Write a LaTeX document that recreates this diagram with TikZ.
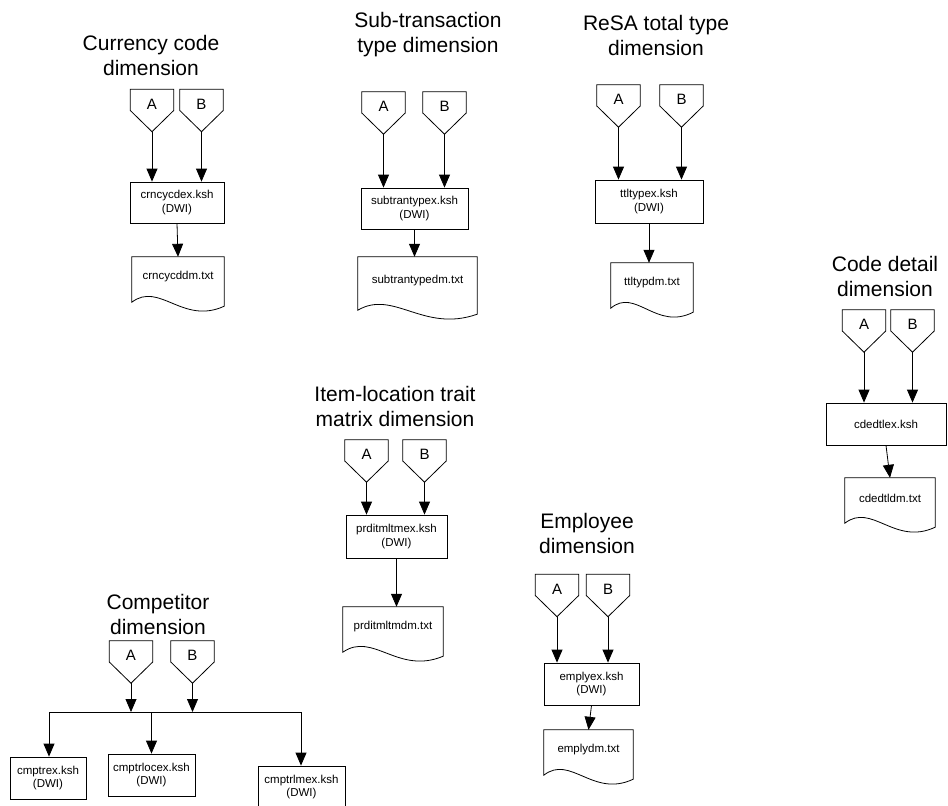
\documentclass[tikz,border=0pt]{standalone}
\usepackage{fontspec}
\setmainfont{Liberation Sans}
\usepackage{tikz}
\usetikzlibrary{arrows.meta,calc}
\tikzstyle{node:title}=[align=center,font=\fontsize{21}{25}\selectfont]
\tikzstyle{node:offpage}=[minimum width=43pt,minimum height=42pt,inner sep=0pt,text height=10.5pt,text depth=13pt,font=\fontsize{15}{18}\selectfont,
  append after command={\pgfextra{\draw[line width=0.8pt] (\tikzlastnode.north west) -- (\tikzlastnode.north east) -- (\tikzlastnode.east) -- (\tikzlastnode.south) -- (\tikzlastnode.west) -- cycle;}}]
\tikzstyle{node:script}=[draw,line width=0.8pt,align=center,inner sep=0pt,font=\fontsize{11.5}{13.5}\selectfont]
\tikzstyle{node:file}=[minimum height=40pt,inner sep=0pt,font=\fontsize{11.5}{13.5}\selectfont,
  append after command={\pgfextra{\draw[line width=0.8pt] (\tikzlastnode.north west) -- (\tikzlastnode.north east) -- ($(\tikzlastnode.south east)+(0,-9pt)$) .. controls ($(\tikzlastnode.south west)!0.55!(\tikzlastnode.south east)+(0,-28pt)$) and ($(\tikzlastnode.south west)!0.3!(\tikzlastnode.south east)+(0,16pt)$) .. ($(\tikzlastnode.south west)+(0,-5pt)$) -- cycle;}}]
\tikzstyle{draw:flow}=[-{Triangle[length=13pt,width=11pt]},line width=0.8pt]

\begin{document}
\begin{tikzpicture}[x=1pt,y=-1pt]
        \useasboundingbox (0,0) rectangle (948,806);

        % Currency code dimension
        \node[node:title] (curT) at (151,55) {Currency code\\dimension};
        \node[node:offpage] (curA) at (152,110.5) {A};
        \node[node:offpage] (curB) at (201.5,110.5) {B};
        \node[node:script,minimum width=94pt,minimum height=41pt] (curKsh) at (177,202.5) {crncycdex.ksh\\(DWI)};
        \node[node:file,minimum width=92pt] (curDoc) at (178,277) {crncycddm.txt};
        \draw[draw:flow] (curA.south) -- (curA.south |- curKsh.north);
        \draw[draw:flow] (curB.south) -- (curB.south |- curKsh.north);
        \draw[draw:flow] (curKsh.south) -- (curDoc.north);

        % Sub-transaction type dimension
        \node[node:title] (subT) at (428,35) {Sub-transaction\\type dimension};
        \node[node:offpage] (subA) at (383.5,113) {A};
        \node[node:offpage] (subB) at (444.5,113) {B};
        \node[node:script,minimum width=107pt,minimum height=41pt] (subKsh) at (414.5,208.5) {subtrantypex.ksh\\(DWI)};
        \node[node:file,minimum width=119pt,minimum height=48pt] (subDoc) at (417.5,281) {subtrantypedm.txt};
        \draw[draw:flow] (subA.south) -- (subA.south |- subKsh.north);
        \draw[draw:flow] (subB.south) -- (subB.south |- subKsh.north);
        \draw[draw:flow] (subKsh.south) -- (subKsh.south |- subDoc.north);

        % ReSA total type dimension
        \node[node:title] (resT) at (656,35) {ReSA total type\\dimension};
        \node[node:offpage] (resA) at (618.5,106) {A};
        \node[node:offpage] (resB) at (681.5,106) {B};
        \node[node:script,minimum width=108pt,minimum height=43pt] (resKsh) at (649,201.5) {ttltypex.ksh\\(DWI)};
        \node[node:file,minimum width=82pt] (resDoc) at (652,283) {ttltypdm.txt};
        \draw[draw:flow] (resA.south) -- (resA.south |- resKsh.north);
        \draw[draw:flow] (resB.south) -- (resB.south |- resKsh.north);
        \draw[draw:flow] (resKsh.south) -- (resKsh.south |- resDoc.north);

        % Code detail dimension
        \node[node:title] (codeT) at (885,276.5) {Code detail\\dimension};
        \node[node:offpage] (codeA) at (864,331) {A};
        \node[node:offpage] (codeB) at (912.5,331) {B};
        \node[node:script,minimum width=120pt,minimum height=42pt] (codeKsh) at (886,424) {cdedtlex.ksh};
        \node[node:file,minimum width=90pt] (codeDoc) at (890,498) {cdedtldm.txt};
        \draw[draw:flow] (codeA.south) -- (codeA.south |- codeKsh.north);
        \draw[draw:flow] (codeB.south) -- (codeB.south |- codeKsh.north);
        \draw[draw:flow] (codeKsh.south) -- (codeDoc.north);

        % Item-location trait matrix dimension
        \node[node:title] (itmT) at (395,406) {Item-location trait\\matrix dimension};
        \node[node:offpage] (itmA) at (366.5,461) {A};
        \node[node:offpage] (itmB) at (424.5,461) {B};
        \node[node:script,minimum width=101pt,minimum height=43pt] (itmKsh) at (396.5,536.5) {prditmltmex.ksh\\(DWI)};
        \node[node:file,minimum width=100pt] (itmDoc) at (393,627) {prditmltmdm.txt};
        \draw[draw:flow] (itmA.south) -- (itmA.south |- itmKsh.north);
        \draw[draw:flow] (itmB.south) -- (itmB.south |- itmKsh.north);
        \draw[draw:flow] (itmKsh.south) -- (itmKsh.south |- itmDoc.north);

        % Employee dimension
        \node[node:title] (empT) at (587,533.5) {Employee\\dimension};
        \node[node:offpage] (empA) at (557,595.5) {A};
        \node[node:offpage] (empB) at (608,595.5) {B};
        \node[node:script,minimum width=95pt,minimum height=42pt] (empKsh) at (591.5,684) {emplyex.ksh\\(DWI)};
        \node[node:file,minimum width=89pt] (empDoc) at (588.5,750) {emplydm.txt};
        \draw[draw:flow] (empA.south) -- (empA.south |- empKsh.north);
        \draw[draw:flow] (empB.south) -- (empB.south |- empKsh.north);
        \draw[draw:flow] (empKsh.south) -- (empDoc.north);

        % Competitor dimension
        \node[node:title] (cmpT) at (158,614.5) {Competitor\\dimension};
        \node[node:offpage] (cmpA) at (131,662) {A};
        \node[node:offpage] (cmpB) at (192.5,662) {B};
        \node[node:script,minimum width=76pt,minimum height=42pt] (cmp1) at (48,778) {cmptrex.ksh\\(DWI)};
        \node[node:script,minimum width=87pt,minimum height=42pt] (cmp2) at (151.5,775) {cmptrlocex.ksh\\(DWI)};
        \node[node:script,minimum width=87pt,minimum height=42pt] (cmp3) at (301.5,787) {cmptrlmex.ksh\\(DWI)};
        \coordinate (busL) at (49,712);
        \coordinate (busR) at (301,712);
        \draw[line width=0.8pt] (busL) -- (busR);
        \draw[draw:flow] (cmpA.south) -- (cmpA.south |- busL);
        \draw[draw:flow] (cmpB.south) -- (cmpB.south |- busL);
        \draw[draw:flow] (busL) -- (busL |- cmp1.north);
        \draw[draw:flow] (cmp2.north |- busL) -- (cmp2.north);
        \draw[draw:flow] (busR) -- (busR |- cmp3.north);

    \end{tikzpicture}
\end{document}
